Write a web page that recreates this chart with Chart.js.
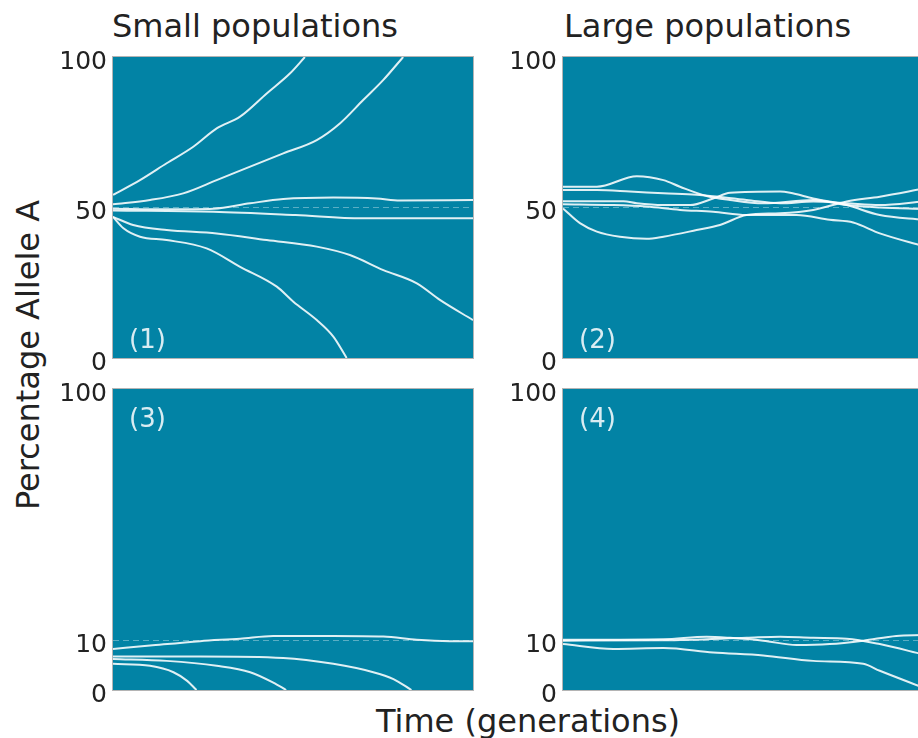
<!DOCTYPE html>
<html>
<head>
<meta charset="utf-8">
<script src="https://cdn.jsdelivr.net/npm/chart.js@4.4.0/dist/chart.umd.min.js"></script>
<style>
  body { margin: 0; width: 918px; height: 738px; overflow: hidden; background: #fff; position: relative;
         font-family: "DejaVu Sans", Verdana, sans-serif; color: #222; }
  .panel { position: absolute; }
  .txt { position: absolute; font-size: 32px; line-height: 32px; white-space: nowrap; }
</style>
</head>
<body>
<div class="txt" style="left:112px;top:10px">Small populations</div>
<div class="txt" style="left:564px;top:10px">Large populations</div>
<div class="txt" style="left:28px;top:355px;transform:translate(-50%,-50%) rotate(-90deg)">Percentage Allele A</div>
<div class="txt" style="left:528px;top:705px;transform:translateX(-50%)">Time (generations)</div>

<canvas id="p1" class="panel" width="440" height="325" style="left:40px;top:45px"></canvas>
<canvas id="p2" class="panel" width="433" height="325" style="left:490px;top:45px"></canvas>
<canvas id="p3" class="panel" width="440" height="325" style="left:40px;top:377px"></canvas>
<canvas id="p4" class="panel" width="433" height="325" style="left:490px;top:377px"></canvas>

<script>
// [generation, % allele A]
// panel 1: small populations, start at 50%
const small50A = [[0,54.2],[7.5,59.1],[14.9,64.7],[22.3,70.2],[28.8,76.3],[35.3,80.2],[42.7,87.9],[49.2,94.6],[53.3,100]];
const small50B = [[0,51.1],[10.3,52.5],[19.5,54.7],[28.8,59.1],[38.1,63.6],[47.3,68],[56.6,72.4],[63.1,78],[69.5,85.7],[75.1,92.4],[80.6,100]];
const small50C = [[0,49.6],[14.9,49.4],[27.9,49.6],[38.1,51.4],[47.3,52.8],[61.2,53.3],[73.2,53],[79.7,52.3],[100,52.5]];
const small50D = [[0,49],[27.9,48.6],[50.7,47.5],[69.2,46.4],[100,46.4]];
const small50E = [[0,46.9],[5.6,44.2],[14.9,42.5],[28.8,41.4],[42.7,39.2],[56.6,37],[65.8,34.2],[75.1,29.2],[84.4,24.8],[90.8,19.3],[100,12.6]];
const small50F = [[0,46.9],[2.9,43.1],[7.5,40.3],[14.9,39.2],[26,36.4],[35.3,30.3],[45.5,23.7],[50.1,18.7],[56.6,12.6],[61.2,7.1],[64.9,0]];

// panel 2: large populations, start at 50%
const large50A = [[0,49.7],[4.7,44.8],[9.4,42],[15.8,40.3],[23.2,39.6],[27.9,40.3],[37.1,42.5],[43.6,44.2],[51,47.5],[60.3,48.1],[69.5,49.2],[78.8,52],[88,53.6],[100,56.2]];
const large50B = [[0,56.9],[9.4,56.9],[20.5,60.4],[27.9,59.1],[32.5,56.9],[39.9,53.8],[46.4,52.5],[55.6,51.4],[69.5,52.5],[78.8,50.8],[88,50],[100,49.5]];
const large50C = [[0,55.8],[9.4,55.8],[18.6,55.3],[27.9,54.7],[37.1,54.2],[51,52.5],[60.3,51.4],[69.5,52],[78.8,51.4],[88,50.8],[100,52]];
const large50D = [[0,52.1],[16.8,52.1],[20.5,51.4],[27.9,50.8],[35.3,50.8],[41.7,53],[46.4,54.9],[60.3,55.3],[63.1,54.9],[69.5,53],[78.8,50.8],[88,47.5],[100,45.9]];
const large50E = [[0,51.1],[13.9,50.8],[23.2,50.3],[32.5,49.2],[41.7,48.6],[51,47.5],[64.9,47.5],[74.1,45.9],[80.6,45],[88,41.4],[100,37.2]];

// panel 3: small populations, start near 10%
const small10A = [[0,8.3],[10.3,9],[24.2,9.9],[35.3,10.7],[44.5,11.7],[61.2,11.7],[75.1,11.5],[84.4,10.3],[93.5,9.9],[100,9.9]];
const small10B = [[0,6.8],[24.2,6.8],[47.3,6.5],[61.2,5.3],[72.3,3.6],[77.9,2.2],[82.9,0]];
const small10C = [[0,6.3],[14.9,5.9],[28.8,4.9],[38.1,3.6],[44.5,1.5],[48.1,0]];
const small10D = [[0,5.3],[10.3,4.9],[16.8,3.6],[20.5,1.9],[23.2,0]];

// panel 4: large populations, start near 10%
const large10A = [[0,10.3],[27.9,10.5],[39.9,11.4],[46.4,11],[55.6,10],[64.9,9.1],[74.1,9.3],[83.4,10],[92.6,11.7],[100,12]];
const large10B = [[0,10],[27.9,10.1],[51,11],[60.3,11.4],[69.5,11],[78.8,10.7],[88,9.3],[100,7.2]];
const large10C = [[0,9.3],[14,8.3],[27.9,8.5],[41.7,7.6],[55.6,7],[69.5,5.9],[83.4,5.3],[88,3.9],[100,0.5]];

const ticksTop = [0, 50, 100];
const ticksBottom = [0, 10, 100];

const FONT = '"DejaVu Sans", Verdana, sans-serif';
const PANEL_BG = '#0283a5';

// bottom panels: 0-10 gets the lower sixth of the axis, 10-100 the rest
const F10 = 0.164;
class BrokenScale extends Chart.LinearScale {
  getPixelForValue(v) {
    if (v === null || v === undefined) return NaN;
    const t = v <= 10 ? v / 10 * F10 : F10 + (v - 10) / 90 * (1 - F10);
    return this.getPixelForDecimal(t);
  }
  getValueForPixel(p) {
    const t = this.getDecimalForPixel(p);
    return t <= F10 ? t / F10 * 10 : 10 + (t - F10) / (1 - F10) * 90;
  }
}
BrokenScale.id = 'broken';
BrokenScale.defaults = Chart.LinearScale.defaults;
Chart.register(BrokenScale);

const panelBg = {
  id: 'panelBg',
  beforeDraw(chart) {
    const { ctx, chartArea: a } = chart;
    ctx.save();
    ctx.fillStyle = PANEL_BG;
    ctx.fillRect(a.left, a.top, a.width, a.height);
    ctx.strokeStyle = '#b4b4b4';
    ctx.lineWidth = 1;
    ctx.strokeRect(a.left - 0.5, a.top - 0.5, a.width + 1, a.height + 1);
    ctx.restore();
  },
  afterDraw(chart, args, opts) {
    const { ctx, chartArea: a } = chart;
    ctx.save();
    ctx.font = '26px ' + FONT;
    ctx.fillStyle = 'rgba(255,255,255,0.85)';
    ctx.textBaseline = 'middle';
    const y = opts.pos === 'top' ? a.top + 31 : a.bottom - 17;
    ctx.fillText(opts.label, a.left + 16, y);
    ctx.restore();
  }
};

function makePanel(id, series, yType, tickVals, refVal, label, pos, padRight) {
  new Chart(document.getElementById(id), {
    type: 'line',
    data: {
      datasets: series.map(s => ({
        data: s,
        borderColor: 'rgba(255,255,255,0.88)',
        borderWidth: 2,
        pointRadius: 0,
        cubicInterpolationMode: 'monotone',
        fill: false
      }))
    },
    options: {
      responsive: false,
      animation: false,
      events: [],
      layout: { padding: { top: 12, bottom: 12, left: 0, right: padRight } },
      plugins: {
        legend: { display: false },
        tooltip: { enabled: false },
        panelBg: { label: label, pos: pos }
      },
      scales: {
        x: { type: 'linear', min: 0, max: 100, display: false },
        y: {
          type: yType,
          min: 0,
          max: 100,
          afterBuildTicks: s => { s.ticks = tickVals.map(v => ({ value: v })); },
          afterFit: s => { s.width = 73; s.paddingTop = 0; s.paddingBottom = 0; },
          grid: {
            drawTicks: false,
            lineWidth: 1,
            color: c => (c.tick && c.tick.value === refVal) ? 'rgba(255,255,255,0.35)' : 'rgba(0,0,0,0)'
          },
          border: { display: false, dash: [6, 4] },
          ticks: {
            padding: 6,
            labelOffset: 5,
            color: '#222',
            font: { family: FONT, size: 25 }
          }
        }
      }
    },
    plugins: [panelBg]
  });
}

makePanel('p1', [small50A, small50B, small50C, small50D, small50E, small50F], 'linear', ticksTop, 50, '(1)', 'bottom', 7);
makePanel('p2', [large50A, large50B, large50C, large50D, large50E], 'linear', ticksTop, 50, '(2)', 'bottom', 0);
makePanel('p3', [small10A, small10B, small10C, small10D], 'broken', ticksBottom, 10, '(3)', 'top', 7);
makePanel('p4', [large10A, large10B, large10C], 'broken', ticksBottom, 10, '(4)', 'top', 0);
</script>
</body>
</html>
